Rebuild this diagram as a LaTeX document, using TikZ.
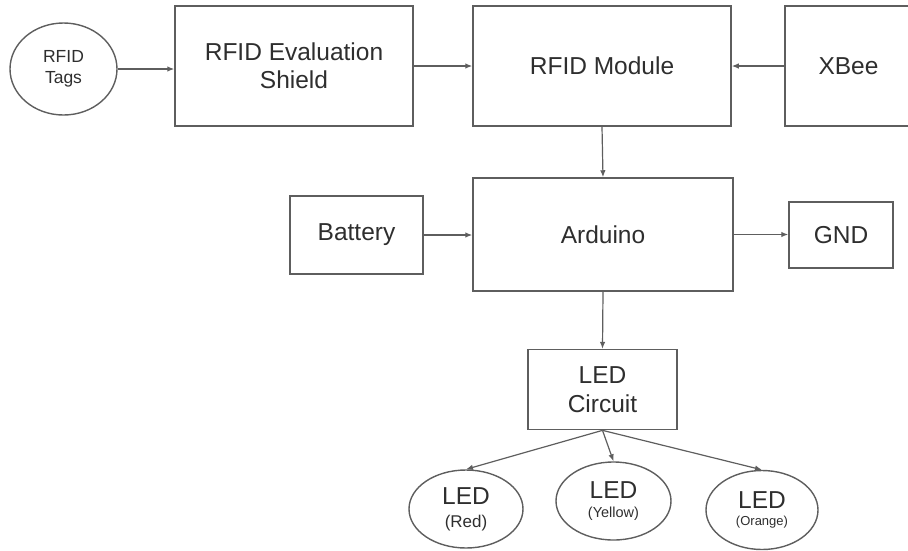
\documentclass[tikz,border=0pt]{standalone}
\usepackage{fontspec}
\setmainfont{Liberation Sans}
\usetikzlibrary{shapes.geometric,arrows.meta}
\definecolor{linec}{HTML}{5E5E5E}
\definecolor{textc}{HTML}{2E2E2E}
\tikzset{
  box/.style={draw=linec, line width=1.5pt, rectangle, inner sep=0pt, text=textc, align=center,
     font=\fontsize{24.5}{28}\selectfont},
  oval/.style={draw=linec, line width=1.4pt, ellipse, inner sep=0pt, text=textc, align=center,
     font=\fontsize{24.5}{23}\selectfont},
  arr/.style={draw=linec, line width=1.2pt, -{Latex[length=7pt,width=5.5pt]}},
}
\begin{document}
\begin{tikzpicture}[x=1pt,y=-1pt]
\useasboundingbox (0,0) rectangle (908,550);
\begin{scope}
\clip (0,0) rectangle (908,550);
\node[oval, minimum width=107pt, minimum height=92pt, font=\fontsize{17.5}{21}\selectfont] (tags) at (63.5,69) {RFID\\Tags};
\node[box, minimum width=238pt, minimum height=120pt] (shield) at (294,66) {RFID Evaluation\\Shield};
\node[box, minimum width=258pt, minimum height=120pt] (module) at (602,66) {RFID Module};
\node[box, minimum width=127pt, minimum height=120pt] (xbee) at (848.5,66) {XBee};
\node[box, minimum width=260pt, minimum height=113pt] (arduino) at (603,234.5) {Arduino};
\node[box, minimum width=133pt, minimum height=78pt] (battery) at (356.5,235) {Battery};
\node[box, minimum width=104pt, minimum height=66pt] (gnd) at (841,235) {GND};
\node[box, minimum width=149pt, minimum height=80pt, font=\fontsize{24.5}{29}\selectfont] (ledc) at (602.5,389.6) {LED\\Circuit};
\node[oval, minimum width=114pt, minimum height=78pt] (red) at (466,509) {LED\\{\fontsize{17}{23}\selectfont (Red)}};
\node[oval, minimum width=115pt, minimum height=78pt, font=\fontsize{24.5}{19}\selectfont] (yellow) at (613.5,501) {LED\\{\fontsize{14.5}{19}\selectfont (Yellow)}};
\node[oval, minimum width=112pt, minimum height=79pt, font=\fontsize{24.5}{17}\selectfont] (orange) at (762,510) {LED\\{\fontsize{13}{17}\selectfont (Orange)}};
\end{scope}
\draw[arr] (tags.east) -- (tags.east -| shield.west);
\draw[arr] (shield.east) -- (module.west);
\draw[arr] (xbee.west) -- (module.east);
\draw[arr] (module.south) -- (arduino.north);
\draw[arr] (battery.east) -- (battery.east -| arduino.west);
\draw[arr] (arduino.east) -- (arduino.east -| gnd.west);
\draw[arr] (arduino.south) -- (ledc.north);
\draw[arr] (ledc.south) -- (red.north);
\draw[arr] (ledc.south) -- (yellow.north);
\draw[arr] (ledc.south) -- (orange.north);
\end{tikzpicture}
\end{document}
